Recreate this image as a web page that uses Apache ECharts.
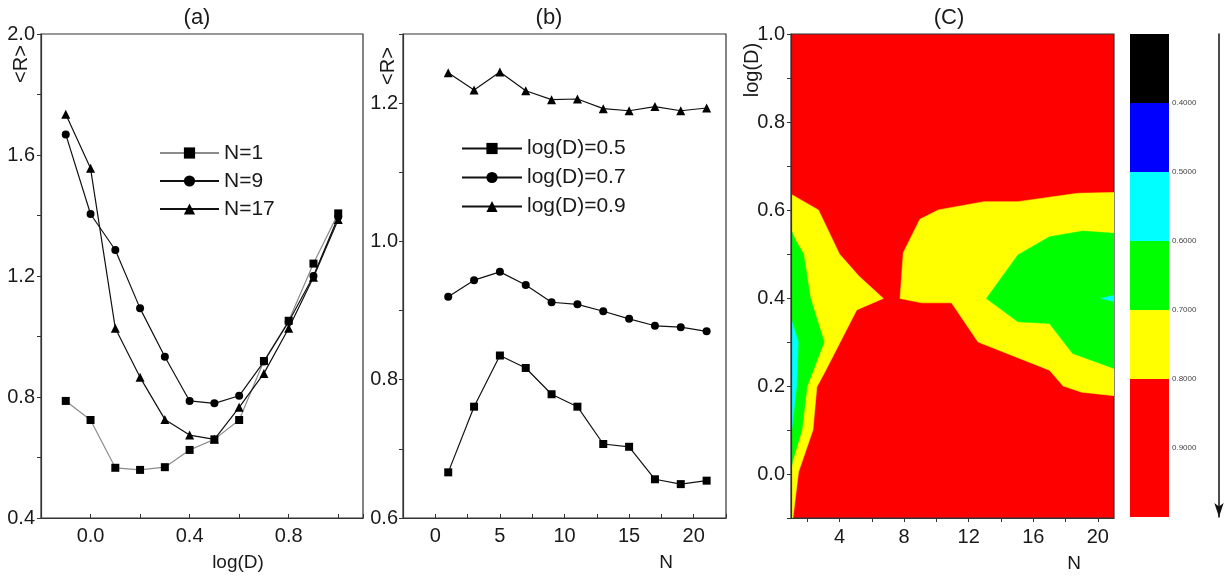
<!DOCTYPE html>
<html>
<head>
<meta charset="utf-8">
<script src="https://cdn.jsdelivr.net/npm/echarts@6/dist/echarts.min.js"></script>
<style>
html, body { margin: 0; padding: 0; background: #fff; }
#chart { width: 1227px; height: 577px; }
</style>
</head>
<body>
<div id="chart"></div>
<script>
// (a) <R> vs log(D)
var logDa = [-0.1, 0.0, 0.1, 0.2, 0.3, 0.4, 0.5, 0.6, 0.7, 0.8, 0.9, 1.0];
var rN1  = [0.787, 0.724, 0.566, 0.559, 0.568, 0.625, 0.660, 0.724, 0.919, 1.052, 1.241, 1.407];
var rN9  = [1.668, 1.405, 1.286, 1.093, 0.933, 0.787, 0.779, 0.804, 0.917, 1.049, 1.200, 1.396];
var rN17 = [1.735, 1.556, 1.027, 0.865, 0.726, 0.674, 0.660, 0.766, 0.878, 1.027, 1.196, 1.387];

// (b) <R> vs N
var Nb  = [1, 3, 5, 7, 9, 11, 13, 15, 17, 19, 21];
var r05 = [0.666, 0.761, 0.835, 0.817, 0.779, 0.761, 0.707, 0.703, 0.656, 0.649, 0.654];
var r07 = [0.920, 0.944, 0.956, 0.937, 0.912, 0.909, 0.899, 0.888, 0.878, 0.876, 0.870];
var r09 = [1.244, 1.219, 1.245, 1.218, 1.205, 1.206, 1.192, 1.189, 1.195, 1.189, 1.193];

// (C) contour boundaries [N, log(D)] ; everything outside is <R> >= 0.8 (red)
var below08 = [
  [[1, 0.636], [2.7, 0.6], [4.0, 0.5], [5.2, 0.45], [6.72, 0.399], [5.07, 0.373], [3.1, 0.232],
   [2.6, 0.198], [2.36, 0.1], [1.47, 0.005], [1.12, -0.1], [1, -0.1]],
  [[21, 0.64], [18.75, 0.638], [15.05, 0.619], [12.95, 0.619], [10.11, 0.6], [8.98, 0.579],
   [7.95, 0.503], [7.75, 0.399], [9.09, 0.389], [10.94, 0.389], [12.58, 0.3], [17.0, 0.236],
   [17.85, 0.2], [19.0, 0.186], [21, 0.178]]
];
var below07 = [
  [[1, 0.555], [1.3, 0.53], [1.78, 0.5], [2.2, 0.4], [3.05, 0.3], [1.99, 0.198], [1.68, 0.1],
   [1.12, 0.032], [1, 0.01]],
  [[21, 0.547], [19.06, 0.552], [17.0, 0.539], [15.05, 0.498], [13.1, 0.399], [15.05, 0.346],
   [17.0, 0.342], [18.44, 0.274], [21, 0.24]]
];
var below06 = [
  [[1, 0.355], [1.45, 0.3], [1.35, 0.2], [1.05, 0.1], [1, 0.09]],
  [[21, 0.406], [20.2, 0.399], [21, 0.392]]
];

// colour scale
var levels = [0.3, 0.4, 0.5, 0.6, 0.7, 0.8, 1.0];
var levelColors = ['#000000', '#0000ff', '#00ffff', '#00ff00', '#ffff00', '#ff0000'];
var levelLabels = [0.4, 0.5, 0.6, 0.7, 0.8, 0.9];

var FONT = 'Liberation Sans, Arial, sans-serif';
var ink = '#1a1a1a';

var bands = [
  { color: '#ffff00', polys: below08 },
  { color: '#00ff00', polys: below07 },
  { color: '#00ffff', polys: below06 }
];
var contourData = [];
bands.forEach(function (b, bi) {
  b.polys.forEach(function (p, pi) { contourData.push([p[0][0], p[0][1], bi, pi]); });
});
var scaleData = [];
for (var i = 0; i < levelColors.length; i++) scaleData.push([0.5, levels[i], levels[i + 1], i]);

function pairs(xs, ys) { return xs.map(function (x, i) { return [x, ys[i]]; }); }

function lineSeries(name, idx, xs, ys, symbol, size, lineColor) {
  return {
    name: name, type: 'line', xAxisIndex: idx, yAxisIndex: idx,
    data: pairs(xs, ys), symbol: symbol, symbolSize: size,
    lineStyle: { color: lineColor, width: 1.2 },
    itemStyle: { color: '#000' },
    emphasis: { disabled: true },
    animation: false
  };
}

function every(step, v) { return Math.round(v * 10) % step === 0; }

function valAxis(grid, min, max, interval, fmt, opts) {
  return {
    type: 'value', gridIndex: grid, min: min, max: max, interval: interval,
    axisLine: { show: true, onZero: false, lineStyle: { color: '#333', width: 1.2 } },
    axisTick: { show: true, length: 4, inside: opts.inside, lineStyle: { color: '#333' } },
    axisLabel: { color: ink, fontSize: 20, fontFamily: FONT, margin: opts.margin, formatter: fmt },
    splitLine: { show: false }
  };
}

var myChart = echarts.init(document.getElementById('chart'));

var option = {
  backgroundColor: '#fff',
  animation: false,
  grid: [
    { left: 41, top: 34, width: 322, height: 484, show: true, borderColor: '#333', borderWidth: 1.2 },
    { left: 403, top: 34, width: 323, height: 484, show: true, borderColor: '#333', borderWidth: 1.2 },
    { left: 791, top: 34, width: 323, height: 484, show: true, borderColor: '#333', borderWidth: 1.2, backgroundColor: '#ff0000' },
    { left: 1130, top: 34, width: 39, height: 483 }
  ],
  xAxis: [
    valAxis(0, -0.2, 1.1, 0.2, function (v) { return every(4, v) ? v.toFixed(1) : ''; }, { inside: true, margin: 8 }),
    valAxis(1, -2.5, 22.5, 2.5, function (v) { return Math.round(v * 2) % 10 === 0 ? String(Math.round(v)) : ''; }, { inside: true, margin: 8 }),
    {
      type: 'value', gridIndex: 2, min: 1, max: 21, z: 10,
      axisLine: { show: true, onZero: false, lineStyle: { color: '#333', width: 1.2 } },
      axisTick: { show: true, length: 4, customValues: [2, 4, 6, 8, 10, 12, 14, 16, 18, 20], lineStyle: { color: '#333' } },
      axisLabel: { color: ink, fontSize: 20, fontFamily: FONT, margin: 9, customValues: [4, 8, 12, 16, 20] },
      splitLine: { show: false }
    },
    { type: 'value', gridIndex: 3, min: 0, max: 1, show: false }
  ],
  yAxis: [
    valAxis(0, 0.4, 2.0, 0.2, function (v) { return every(4, v) ? v.toFixed(1) : ''; }, { inside: false, margin: 6 }),
    valAxis(1, 0.6, 1.3, 0.1, function (v) { return every(2, v) ? v.toFixed(1) : ''; }, { inside: false, margin: 5 }),
    Object.assign(valAxis(2, -0.1, 1.0, 0.1, function (v) { return every(2, v) ? v.toFixed(1) : ''; }, { inside: false, margin: 6 }), { z: 10 }),
    {
      type: 'value', gridIndex: 3, min: 0.3, max: 1.0, inverse: true, position: 'right',
      axisLine: { show: false }, axisTick: { show: false }, splitLine: { show: false },
      axisLabel: { color: '#444', fontSize: 8, fontFamily: FONT, margin: 3, customValues: levelLabels,
        formatter: function (v) { return v.toFixed(4); } }
    },
    {
      type: 'value', gridIndex: 3, min: 0.3, max: 1.0, inverse: true, position: 'right', offset: 50,
      axisLine: { show: true, onZero: false, symbol: ['arrow', 'none'], symbolSize: [7, 14], lineStyle: { color: '#111', width: 1.5 } },
      axisTick: { show: false }, axisLabel: { show: false }, splitLine: { show: false }
    }
  ],
  legend: [
    {
      data: ['N=1', 'N=9', 'N=17'], orient: 'vertical', left: 154, top: 134,
      itemWidth: 59, itemHeight: 14, itemGap: 0, selectedMode: false,
      textStyle: { color: ink, fontSize: 21, fontFamily: FONT, lineHeight: 28 }
    },
    {
      data: ['log(D)=0.5', 'log(D)=0.7', 'log(D)=0.9'], orient: 'vertical', left: 456, top: 129,
      itemWidth: 60, itemHeight: 14, itemGap: 0, selectedMode: false,
      textStyle: { color: ink, fontSize: 21, fontFamily: FONT, lineHeight: 29 }
    }
  ],
  graphic: [
    { type: 'text', x: 197, y: 18, style: { text: '(a)', font: '22px ' + FONT, fill: ink, align: 'center', verticalAlign: 'middle' } },
    { type: 'text', x: 549, y: 18, style: { text: '(b)', font: '22px ' + FONT, fill: ink, align: 'center', verticalAlign: 'middle' } },
    { type: 'text', x: 949, y: 18, style: { text: '(C)', font: '22px ' + FONT, fill: ink, align: 'center', verticalAlign: 'middle' } },
    { type: 'text', x: 21, y: 64, rotation: Math.PI / 2, style: { text: '<R>', font: '20px ' + FONT, fill: ink, align: 'center', verticalAlign: 'middle' } },
    { type: 'text', x: 388, y: 66, rotation: Math.PI / 2, style: { text: '<R>', font: '20px ' + FONT, fill: ink, align: 'center', verticalAlign: 'middle' } },
    { type: 'text', x: 752, y: 70, rotation: Math.PI / 2, style: { text: 'log(D)', font: '20px ' + FONT, fill: ink, align: 'center', verticalAlign: 'middle' } },
    { type: 'text', x: 238, y: 563, style: { text: 'log(D)', font: '19px ' + FONT, fill: ink, align: 'center', verticalAlign: 'middle' } },
    { type: 'text', x: 666, y: 563, style: { text: 'N', font: '19px ' + FONT, fill: ink, align: 'center', verticalAlign: 'middle' } },
    { type: 'text', x: 1074, y: 564, style: { text: 'N', font: '19px ' + FONT, fill: ink, align: 'center', verticalAlign: 'middle' } }
  ],
  series: [
    lineSeries('N=1', 0, logDa, rN1, 'rect', 8, '#8c8c8c'),
    lineSeries('N=9', 0, logDa, rN9, 'circle', 8, '#111'),
    lineSeries('N=17', 0, logDa, rN17, 'triangle', 9, '#111'),
    lineSeries('log(D)=0.5', 1, Nb, r05, 'rect', 8, '#111'),
    lineSeries('log(D)=0.7', 1, Nb, r07, 'circle', 8, '#111'),
    lineSeries('log(D)=0.9', 1, Nb, r09, 'triangle', 9, '#111'),
    {
      type: 'custom', xAxisIndex: 2, yAxisIndex: 2, silent: true, clip: true,
      data: contourData,
      renderItem: function (params, api) {
        var band = bands[api.value(2)];
        var poly = band.polys[api.value(3)];
        var pts = poly.map(function (v) { return api.coord(v); });
        return { type: 'polygon', shape: { points: pts }, style: { fill: band.color, stroke: band.color, lineWidth: 0.5 } };
      }
    },
    {
      type: 'custom', xAxisIndex: 3, yAxisIndex: 3, silent: true,
      data: scaleData,
      renderItem: function (params, api) {
        var p1 = api.coord([0, api.value(1)]);
        var p2 = api.coord([1, api.value(2)]);
        return {
          type: 'rect',
          shape: { x: Math.min(p1[0], p2[0]), y: Math.min(p1[1], p2[1]), width: Math.abs(p2[0] - p1[0]), height: Math.abs(p2[1] - p1[1]) },
          style: { fill: levelColors[api.value(3)] }
        };
      }
    }
  ]
};

myChart.setOption(option);
</script>
</body>
</html>
